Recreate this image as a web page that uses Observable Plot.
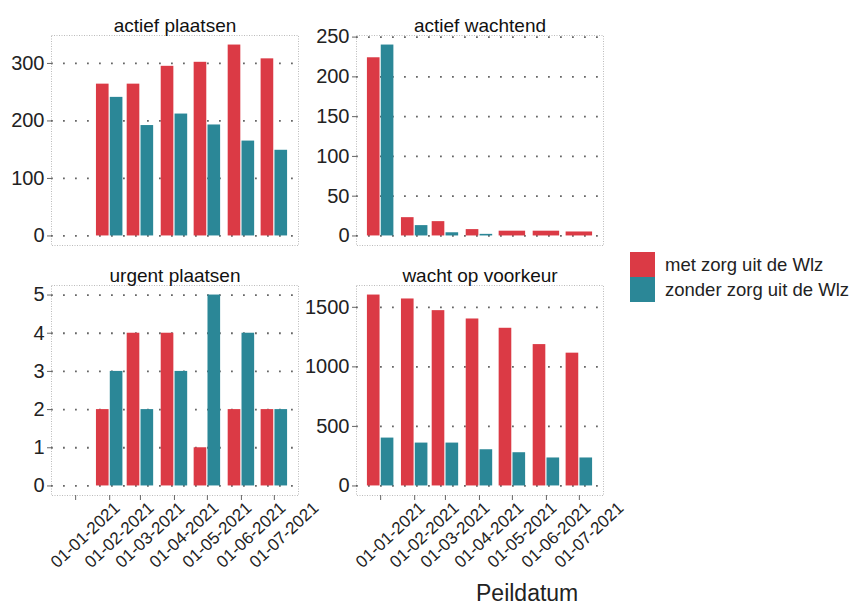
<!DOCTYPE html>
<html>
<head>
<meta charset="utf-8">
<script src="https://cdn.jsdelivr.net/npm/d3@7"></script>
<script src="https://cdn.jsdelivr.net/npm/@observablehq/plot@0.6"></script>
<style>
  body { margin: 0; background: #fff; }
  #chart { position: relative; width: 855px; height: 608px; overflow: hidden; font-family: "Liberation Sans", Arial, sans-serif; }
  #chart svg { overflow: visible; }
  .panel { position: absolute; }
  .legend { position: absolute; left: 630px; top: 252px; }
  .legend .row { display: flex; align-items: center; height: 25px; }
  .legend .sw { width: 25px; height: 25px; margin-right: 10px; }
  .legend .lab { font-size: 18.5px; color: #222; }
  .xtitle { position: absolute; left: 476px; top: 580px; font-size: 23px; color: #222; }
</style>
</head>
<body>
<div id="chart"></div>
<script>
// ---- data ----
const dates = ["2021-01-01", "2021-02-01", "2021-03-01", "2021-04-01", "2021-05-01", "2021-06-01", "2021-07-01"];
const dateLabels = ["01-01-2021", "01-02-2021", "01-03-2021", "01-04-2021", "01-05-2021", "01-06-2021", "01-07-2021"];
const series = ["met zorg uit de Wlz", "zonder zorg uit de Wlz"];
const colors = ["#db3a45", "#2b8797"];
const panelTitles = ["actief plaatsen", "actief wachtend", "urgent plaatsen", "wacht op voorkeur"];

const metActiefPlaatsen = [null, 264, 264, 295, 302, 332, 308];
const zonderActiefPlaatsen = [null, 241, 192, 212, 193, 165, 149];
const metActiefWachtend = [224, 23, 18, 8, 6, 6, 5];
const zonderActiefWachtend = [240, 13, 4, 2, null, null, null];
const metUrgent = [null, 2, 4, 4, 1, 2, 2];
const zonderUrgent = [null, 3, 2, 3, 5, 4, 2];
const metVoorkeur = [1603, 1570, 1472, 1402, 1324, 1187, 1115];
const zonderVoorkeur = [402, 360, 360, 304, 279, 235, 235];

const ticksActiefPlaatsen = [0, 100, 200, 300];
const ticksActiefWachtend = [0, 50, 100, 150, 200, 250];
const ticksUrgent = [0, 1, 2, 3, 4, 5];
const ticksVoorkeur = [0, 500, 1000, 1500];

// ---- helpers ----
const DAY = 864e5;
const barWidth = 0.9 * 28 * DAY; // ggplot-like dodge width on a date axis
const xDomain = [new Date(Date.UTC(2020, 11, 10)), new Date(Date.UTC(2021, 6, 23))];

function buildBars(met, zonder) {
  const rows = [];
  dates.forEach((d, i) => {
    const t = Date.parse(d);
    const m = met[i], z = zonder[i];
    const half = barWidth / 2;
    if (m != null && z != null) {
      rows.push({x1: new Date(t - half), x2: new Date(t), value: m, series: series[0]});
      rows.push({x1: new Date(t), x2: new Date(t + half), value: z, series: series[1]});
    } else if (m != null) {
      rows.push({x1: new Date(t - half), x2: new Date(t + half), value: m, series: series[0]});
    } else if (z != null) {
      rows.push({x1: new Date(t - half), x2: new Date(t + half), value: z, series: series[1]});
    }
  });
  return rows;
}

function expand(max) { return [-0.05 * max, max * 1.05]; }

function panel({title, met, zonder, yTicks, yMax, left, top, width, height, mLeft, xAxis}) {
  const rows = buildBars(met, zonder);
  const tickDates = dates.map(d => new Date(d));
  const marks = [
    Plot.frame({stroke: "#bbb", strokeDasharray: "1,1.5", strokeWidth: 1}),
    Plot.gridY(yTicks, {stroke: "#666", strokeOpacity: 1, strokeWidth: 1.8, strokeDasharray: "1.8,10.2"}),
    Plot.rect(rows, {x1: "x1", x2: "x2", y1: 0, y2: "value", fill: "series", insetLeft: 0.6, insetRight: 0.6}),
    Plot.axisY(yTicks, {tickSize: 4, tickPadding: 3, fontSize: 20, stroke: "#666", fill: "#222", tickFormat: d3.format("d")}),
    Plot.text([title], {frameAnchor: "top", dy: -17, fontSize: 19, fill: "#111"})
  ];
  if (xAxis) {
    marks.push(Plot.axisX(tickDates, {tickSize: 5, stroke: "#666", tickFormat: () => ""}));
    marks.push(Plot.text(tickDates, {
      x: d => d, frameAnchor: "bottom", text: (d, i) => dateLabels[i],
      rotate: -43, textAnchor: "end", lineAnchor: "top", dx: 37, dy: 5,
      fontSize: 17, fill: "#222"
    }));
  } else {
    marks.push(Plot.axisX({ticks: [], label: null, tickSize: 0}));
  }
  const p = Plot.plot({
    width, height,
    marginLeft: mLeft, marginRight: 2, marginTop: 35, marginBottom: height - 35 - 210,
    x: {type: "utc", domain: xDomain, label: null},
    y: {domain: expand(yMax), label: null},
    color: {domain: series, range: colors},
    style: {fontFamily: "'Liberation Sans', Arial, sans-serif", background: "transparent", overflow: "visible", color: "#222"},
    marks
  });
  const wrap = document.createElement("div");
  wrap.className = "panel";
  wrap.style.left = left + "px";
  wrap.style.top = top + "px";
  wrap.appendChild(p);
  document.getElementById("chart").appendChild(wrap);
}

panel({title: panelTitles[0], met: metActiefPlaatsen, zonder: zonderActiefPlaatsen, yTicks: ticksActiefPlaatsen, yMax: 332, left: 0, top: 0, width: 300, height: 250, mLeft: 51, xAxis: false});
panel({title: panelTitles[1], met: metActiefWachtend, zonder: zonderActiefWachtend, yTicks: ticksActiefWachtend, yMax: 240, left: 300, top: 0, width: 305, height: 250, mLeft: 56, xAxis: false});
panel({title: panelTitles[2], met: metUrgent, zonder: zonderUrgent, yTicks: ticksUrgent, yMax: 5, left: 0, top: 250, width: 300, height: 358, mLeft: 51, xAxis: true});
panel({title: panelTitles[3], met: metVoorkeur, zonder: zonderVoorkeur, yTicks: ticksVoorkeur, yMax: 1603, left: 300, top: 250, width: 305, height: 358, mLeft: 56, xAxis: true});

// legend
const legend = document.createElement("div");
legend.className = "legend";
series.forEach((s, i) => {
  const row = document.createElement("div");
  row.className = "row";
  const sw = document.createElement("div");
  sw.className = "sw";
  sw.style.background = colors[i];
  const lab = document.createElement("div");
  lab.className = "lab";
  lab.textContent = s;
  row.appendChild(sw); row.appendChild(lab);
  legend.appendChild(row);
});
document.getElementById("chart").appendChild(legend);

const xt = document.createElement("div");
xt.className = "xtitle";
xt.textContent = "Peildatum";
document.getElementById("chart").appendChild(xt);
</script>
</body>
</html>
